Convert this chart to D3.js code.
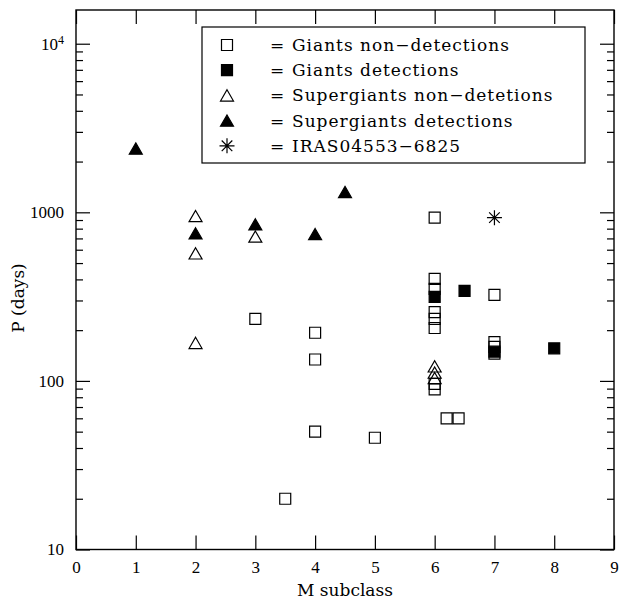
<!DOCTYPE html>
<html>
<head>
<meta charset="utf-8">
<script src="https://cdn.jsdelivr.net/npm/d3@7"></script>
<style>
  body { margin: 0; background: #fff; }
  svg { display: block; }
</style>
</head>
<body>
<div id="chart"></div>
<script>
// Values (x = M subclass, P in days)
const giantsNonDetX = [3, 3.5, 4, 4, 4, 5, 6, 6, 6, 6, 6, 6, 6, 6, 6.2, 6.4, 7, 7, 7, 7];
const giantsNonDetP = [233, 20, 193, 134, 50, 46, 930, 403, 351, 256, 233, 206, 96, 89, 60, 60, 324, 170, 159, 145];

const giantsDetX = [6, 6.5, 7, 8];
const giantsDetP = [315, 342, 149, 156];

const superNonDetX = [2, 2, 2, 3, 6, 6, 6];
const superNonDetP = [950, 571, 168, 718, 122, 112, 104];

const superDetX = [1, 2, 3, 4, 4.5];
const superDetP = [2390, 750, 849, 743, 1320];

const irasX = [7];
const irasP = [930];

const xTicks = [0, 1, 2, 3, 4, 5, 6, 7, 8, 9];
const yMajor = [10, 100, 1000, 10000];
const yLabels = ['10', '100', '1000', '10^4'];

const legendLabels = [
    'Giants non\u2212detections',
    'Giants detections',
    'Supergiants non\u2212detetions',
    'Supergiants detections',
    'IRAS04553\u22126825'
];

const width = 619, height = 603;
const margin = {top: 10, right: 5, bottom: 53.5, left: 76};
const labelFont = '"Liberation Serif", serif';
const textFont = '"DejaVu Serif", serif';

const svg = d3.select('#chart').append('svg')
    .attr('width', width)
    .attr('height', height);

const x = d3.scaleLinear()
    .domain([0, 9])
    .range([margin.left, width - margin.right]);

const y = d3.scaleLog()
    .domain([10, Math.pow(10, 4.2)])
    .range([height - margin.bottom, margin.top]);

// minor ticks 2..9 in every decade
const yMinor = [];
yMajor.forEach(d => d3.range(2, 10).forEach(k => {
    if (d * k < y.domain()[1]) yMinor.push(d * k);
}));

function styleAxis(g) {
    g.select('.domain').remove();
    g.selectAll('line').attr('stroke', '#000').attr('stroke-width', 1.2);
    g.selectAll('text')
        .attr('fill', '#000')
        .style('font-family', labelFont)
        .style('font-size', '17px');
}

const x0 = margin.left, x1 = width - margin.right;
const y0 = height - margin.bottom, y1 = margin.top;

svg.append('g')
    .attr('transform', `translate(0,${y0})`)
    .call(d3.axisBottom(x).tickValues(xTicks).tickSizeInner(-14).tickSizeOuter(0).tickPadding(11))
    .call(styleAxis);

svg.append('g')
    .attr('transform', `translate(0,${y1})`)
    .call(d3.axisTop(x).tickValues(xTicks).tickSizeInner(-14).tickSizeOuter(0).tickFormat(''))
    .call(styleAxis);

svg.append('g')
    .attr('transform', `translate(${x0},0)`)
    .call(d3.axisLeft(y).tickValues(yMajor).tickSizeInner(-14).tickSizeOuter(0).tickPadding(12)
        .tickFormat((d, i) => yLabels[i]))
    .call(styleAxis)
    .call(g => g.selectAll('text').each(function(d, i) {
        const parts = yLabels[i].split('^');
        if (parts.length < 2) return;
        const t = d3.select(this).text(parts[0]);
        t.append('tspan')
            .attr('dy', '-0.45em')
            .style('font-size', '12px')
            .text(parts[1]);
    }));

svg.append('g')
    .attr('transform', `translate(${x0},0)`)
    .call(d3.axisLeft(y).tickValues(yMinor).tickSizeInner(-7).tickSizeOuter(0).tickFormat(''))
    .call(styleAxis);

svg.append('g')
    .attr('transform', `translate(${x1},0)`)
    .call(d3.axisRight(y).tickValues(yMajor).tickSizeInner(-14).tickSizeOuter(0).tickFormat(''))
    .call(styleAxis);

svg.append('g')
    .attr('transform', `translate(${x1},0)`)
    .call(d3.axisRight(y).tickValues(yMinor).tickSizeInner(-7).tickSizeOuter(0).tickFormat(''))
    .call(styleAxis);

// plot frame
svg.append('rect')
    .attr('x', x0).attr('y', y1)
    .attr('width', x1 - x0).attr('height', y0 - y1)
    .attr('fill', 'none')
    .attr('stroke', '#000')
    .attr('stroke-width', 1.4);

// axis titles
svg.append('text')
    .attr('x', (x0 + x1) / 2)
    .attr('y', 596)
    .attr('text-anchor', 'middle')
    .style('font-family', textFont)
    .style('font-size', '17px')
    .text('M subclass');

svg.append('text')
    .attr('transform', `translate(24,298) rotate(-90)`)
    .attr('text-anchor', 'middle')
    .style('font-family', textFont)
    .style('font-size', '17px')
    .text('P (days)');

// asterisk marker
const asterisk = {
    draw(context, size) {
        const r = Math.sqrt(size) / 2;
        for (let a = 0; a < 4; a++) {
            const ang = a * Math.PI / 4;
            context.moveTo(-r * Math.cos(ang), -r * Math.sin(ang));
            context.lineTo(r * Math.cos(ang), r * Math.sin(ang));
        }
    }
};

const markers = [
    {type: d3.symbolSquare, size: 121, fill: 'none', dy: 0},
    {type: d3.symbolSquare, size: 121, fill: '#000', dy: 0},
    {type: d3.symbolTriangle, size: 73, fill: 'none', dy: 1.9},
    {type: d3.symbolTriangle, size: 73, fill: '#000', dy: 1.9},
    {type: asterisk, size: 225, fill: 'none', dy: 0}
];

const series = [
    [giantsNonDetX, giantsNonDetP],
    [giantsDetX, giantsDetP],
    [superNonDetX, superNonDetP],
    [superDetX, superDetP],
    [irasX, irasP]
];

function drawMarker(sel, m) {
    sel.append('path')
        .attr('d', d3.symbol().type(m.type).size(m.size))
        .attr('fill', m.fill)
        .attr('stroke', '#000')
        .attr('stroke-width', 1.2);
}

series.forEach(([xs, ps], k) => {
    const m = markers[k];
    svg.append('g')
        .selectAll('g')
        .data(xs.map((d, i) => [d, ps[i]]))
        .join('g')
        .attr('transform', d => `translate(${x(d[0])},${y(d[1]) + m.dy})`)
        .each(function() { drawMarker(d3.select(this), m); });
});

// legend
const legend = svg.append('g');
legend.append('rect')
    .attr('x', 202).attr('y', 27)
    .attr('width', 383).attr('height', 136)
    .attr('fill', '#fff')
    .attr('stroke', '#000')
    .attr('stroke-width', 1.2);

const rows = legend.selectAll('g.row')
    .data(legendLabels)
    .join('g')
    .attr('class', 'row')
    .attr('transform', (d, i) => `translate(0,${45 + i * 25.2})`);

rows.append('g')
    .attr('transform', (d, i) => `translate(227,${markers[i].dy})`)
    .each(function(d, i) { drawMarker(d3.select(this), markers[i]); });

rows.append('text')
    .attr('x', 270)
    .attr('dy', '0.35em')
    .style('font-family', textFont)
    .style('font-size', '17px')
    .text('=');

rows.append('text')
    .attr('x', 292)
    .attr('dy', '0.35em')
    .style('font-family', textFont)
    .style('font-size', '17px')
    .style('letter-spacing', '1px')
    .text(d => d);
</script>
</body>
</html>
